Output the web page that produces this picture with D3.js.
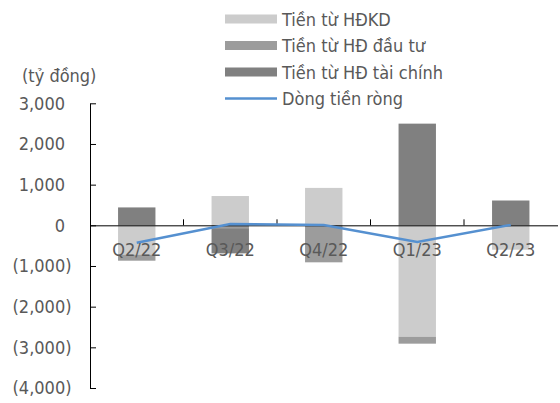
<!DOCTYPE html>
<html>
<head>
<meta charset="utf-8">
<script src="https://cdn.jsdelivr.net/npm/d3@7"></script>
<style>
  body { margin: 0; background: #fff; }
  text { font-family: "DejaVu Sans Condensed", "Liberation Sans", sans-serif; font-size: 18px; fill: #595959; }
</style>
</head>
<body>
<div id="chart"></div>
<script>
const quarters = ["Q2/22", "Q3/22", "Q4/22", "Q1/23", "Q2/23"];
const seriesNames = ["Tiền từ HĐKD", "Tiền từ HĐ đầu tư", "Tiền từ HĐ tài chính"];
const hdkd = [-720, 720, 920, -2740, -600];
const dauTu = [-150, -70, -910, -170, 0];
const taiChinh = [440, -620, 0, 2500, 610];
const netFlow = [-430, 30, 10, -410, 10];
const lineName = "Dòng tiền ròng";
const yTicks = [3000, 2000, 1000, 0, -1000, -2000, -3000, -4000];
const unitLabel = "(tỷ đồng)";

const colors = ["#cccccc", "#9c9c9c", "#808080"];
const lineColor = "#5590d0";

const width = 560, height = 403;

const svg = d3.select("#chart")
  .append("svg")
  .attr("width", width)
  .attr("height", height);

const rows = quarters.map((q, i) => ({ q, s0: hdkd[i], s1: dauTu[i], s2: taiChinh[i] }));

const stack = d3.stack()
  .keys(["s0", "s1", "s2"])
  .offset(d3.stackOffsetDiverging);
const layers = stack(rows);

const x = d3.scaleBand()
  .domain(quarters)
  .range([90, 557.5])
  .paddingInner(0.6)
  .paddingOuter(0.3);

const y = d3.scaleLinear()
  .domain([-4000, 3000])
  .range([388, 103.3]);

// bars
svg.append("g")
  .selectAll("g")
  .data(layers)
  .join("g")
    .attr("fill", (d, i) => colors[i])
  .selectAll("rect")
  .data(d => d)
  .join("rect")
    .attr("x", d => x(d.data.q))
    .attr("y", d => y(Math.max(d[0], d[1])))
    .attr("width", x.bandwidth())
    .attr("height", d => Math.abs(y(d[0]) - y(d[1])));

// y axis
const fmt = v => v < 0 ? "(" + d3.format(",")(-v) + ")" : d3.format(",")(v);
const yAxis = svg.append("g")
  .attr("transform", "translate(90,0)")
  .call(d3.axisLeft(y).tickValues(yTicks).tickSize(-6).tickSizeOuter(0).tickFormat(fmt));
yAxis.attr("font-family", null).attr("font-size", null);
yAxis.select(".domain").attr("stroke", "#000");
yAxis.selectAll(".tick line").attr("stroke", "#000");
yAxis.selectAll(".tick text")
  .attr("x", d => d < 0 ? -18.5 : -25)
  .attr("fill", "#595959");

// zero axis with category ticks
const step = x.step();
const xAxis = svg.append("g")
  .attr("transform", `translate(0,${y(0)})`)
  .call(d3.axisTop(x).tickSize(0).tickFormat(""));
xAxis.select(".domain").attr("stroke", "#000");
xAxis.selectAll(".tick line").remove();
xAxis.selectAll(".sep")
  .data(quarters.slice(1))
  .join("line")
    .attr("class", "sep")
    .attr("x1", d => x(d) - step * 0.3)
    .attr("x2", d => x(d) - step * 0.3)
    .attr("y1", 0)
    .attr("y2", -6)
    .attr("stroke", "#000");

// net line
svg.append("path")
  .datum(netFlow)
  .attr("fill", "none")
  .attr("stroke", lineColor)
  .attr("stroke-width", 2.5)
  .attr("d", d3.line()
    .x((d, i) => x(quarters[i]) + x.bandwidth() / 2)
    .y(d => y(d)));

// category labels
svg.append("g")
  .selectAll("text")
  .data(quarters)
  .join("text")
    .attr("x", d => x(d) + x.bandwidth() / 2)
    .attr("y", 256)
    .attr("text-anchor", "middle")
    .text(d => d);

// unit label
svg.append("text")
  .attr("x", 22)
  .attr("y", 82)
  .text(unitLabel);

// legend
const legend = svg.append("g");
const legendY = [19, 45.5, 72, 98.5];
seriesNames.forEach((name, i) => {
  legend.append("rect")
    .attr("x", 225).attr("y", legendY[i] - 4.5)
    .attr("width", 52).attr("height", 9)
    .attr("fill", colors[i]);
  legend.append("text")
    .attr("x", 282).attr("y", legendY[i] + 6.5)
    .text(name);
});
legend.append("line")
  .attr("x1", 225).attr("x2", 277)
  .attr("y1", legendY[3]).attr("y2", legendY[3])
  .attr("stroke", lineColor).attr("stroke-width", 2.5);
legend.append("text")
  .attr("x", 282).attr("y", legendY[3] + 6.5)
  .text(lineName);
</script>
</body>
</html>
